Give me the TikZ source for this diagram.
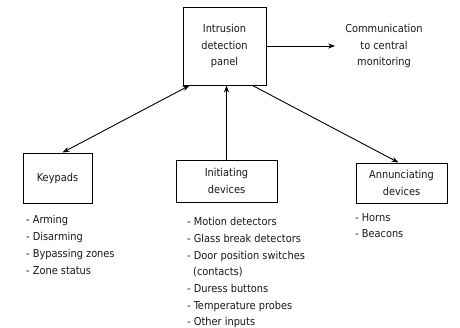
\documentclass[tikz,border=0pt]{standalone}
\usepackage{fontspec}
\setmainfont{DejaVu Sans Condensed}
\usetikzlibrary{arrows.meta}
\begin{document}
\begin{tikzpicture}[x=1pt,y=-1pt,
  txt/.style={font=\fontsize{10.9}{16.7}\selectfont, text=black!90},
  box/.style={draw, line width=0.9pt, align=center, inner sep=0pt, txt},
  lst/.style={txt, align=left, inner sep=0pt, anchor=base west},
  arr/.style={line width=0.9pt, -{Stealth[length=7pt,width=5pt]}},
  darr/.style={line width=0.9pt, {Stealth[length=7pt,width=5pt]}-{Stealth[length=7pt,width=5pt]}}]
\useasboundingbox[fill=white] (0,0) rectangle (460,328);
\node[box, minimum width=83pt, minimum height=78pt] (panel) at (224.5,46) {Intrusion\\detection\\panel};
\node[txt, align=center, inner sep=0pt] (comm) at (384,46) {Communication\\to central\\monitoring};
\node[box, minimum width=69pt, minimum height=50pt] (keys) at (57.5,178) {Keypads};
\node[box, minimum width=101pt, minimum height=42pt] (init) at (226.5,181) {Initiating\\devices};
\node[box, minimum width=91pt, minimum height=40pt] (ann) at (401.5,183) {Annunciating\\devices};
\node[lst, font=\fontsize{10.9}{17}\selectfont] (keyl) at (26,275) {- Arming\\- Disarming\\- Bypassing zones\\- Zone status};
\node[lst] (initl) at (187,326) {- Motion detectors\\- Glass break detectors\\- Door position switches\\\hspace{6pt}(contacts)\\- Duress buttons\\- Temperature probes\\- Other inputs};
\node[lst] (annl) at (355,238) {- Horns\\- Beacons};
\draw[arr] (panel.east) -- ([xshift=-10pt]comm.west);
\draw[darr] ([xshift=7pt]panel.south west) -- ([xshift=5pt]keys.north);
\draw[arr] (init.north) -- (init.north |- panel.south);
\draw[arr] ([xshift=-14pt]panel.south east) -- ([xshift=-3pt]ann.north);
\end{tikzpicture}
\end{document}
